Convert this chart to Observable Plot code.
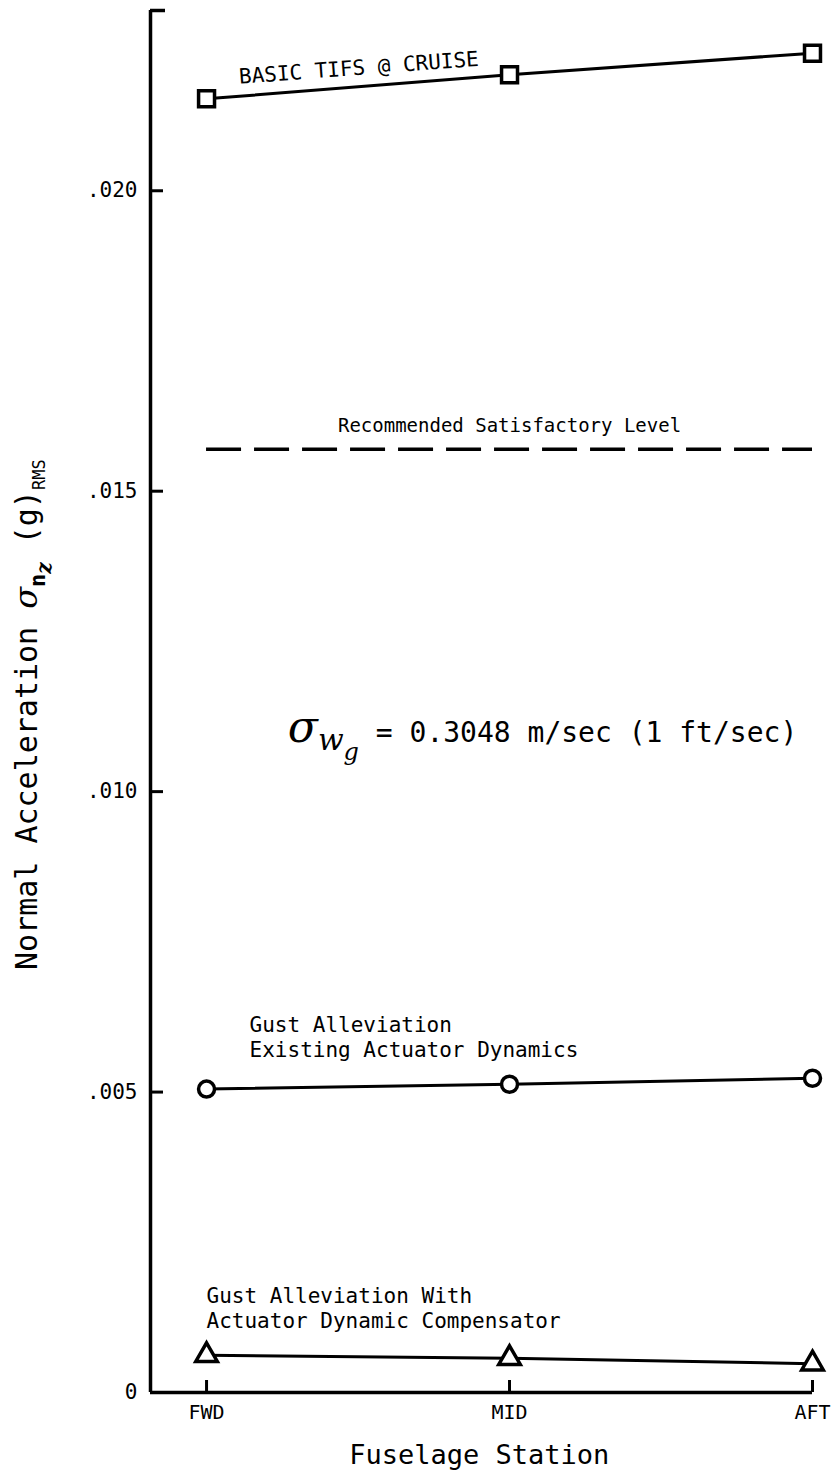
<!DOCTYPE html>
<html>
<head>
<meta charset="utf-8">
<script src="https://cdn.jsdelivr.net/npm/d3@7"></script>
<script src="https://cdn.jsdelivr.net/npm/@observablehq/plot@0.6"></script>
<style>
  body { margin: 0; background: #fff; }
  #chart svg { display: block; }
</style>
</head>
<body>
<div id="chart"></div>
<script>
// Fuselage stations along the x axis
const stations = ["FWD", "MID", "AFT"];

// RMS normal acceleration (g) at each station
const basicTifs = [0.02153, 0.02193, 0.02229];
const existingActuator = [0.00505, 0.00513, 0.00523];
const withCompensator = [0.00062, 0.00057, 0.00048];

// Recommended satisfactory level (g RMS)
const satisfactoryLevel = 0.0157;

// Y axis ticks and their printed labels
const yTicks = [0, 0.005, 0.010, 0.015, 0.020];
const yTickLabels = ["0", ".005", ".010", ".015", ".020"];
const yTop = 0.023;

const stationIndex = stations.map((_, i) => i);
const xMin = -0.185;
const lastStation = stations.length - 1;
const mono = "'DejaVu Sans Mono', monospace";
const serif = "'DejaVu Serif', serif";

const toRows = (values, series) => values.map((v, i) => ({series, station: i, value: v}));
const basicRows = toRows(basicTifs, "basic");
const existingRows = toRows(existingActuator, "existing");
const compensatorRows = toRows(withCompensator, "compensator");

const seriesStyle = {x: "station", y: "value", stroke: "black", strokeWidth: 3};
const dotStyle = {x: "station", y: "value", stroke: "black", fill: "white", strokeWidth: 3.5};

const plot = Plot.plot({
  width: 834,
  height: 1471,
  marginLeft: 150,
  marginRight: 22,
  marginTop: 10,
  marginBottom: 79,
  x: {domain: [xMin, lastStation]},
  y: {domain: [0, yTop]},
  style: {fontFamily: mono, background: "white", color: "black", overflow: "visible"},
  marks: [
    // axis frame: left spine with a cap at the top, bottom spine ending at AFT
    Plot.ruleX([xMin], {y1: 0, y2: yTop, strokeWidth: 3.5}),
    Plot.ruleY([0], {x1: xMin, x2: lastStation, strokeWidth: 3.5}),
    Plot.axisY([yTop], {tickSize: -15, strokeWidth: 3.5, tickFormat: () => "", label: null}),
    Plot.axisY(yTicks, {
      tickSize: -13, tickPadding: 26, strokeWidth: 3, fontSize: 21,
      tickFormat: d => yTickLabels[yTicks.indexOf(d)], label: null
    }),
    Plot.axisX(stationIndex, {
      tickSize: -12, tickPadding: 24, strokeWidth: 3, fontSize: 20,
      tickFormat: i => stations[i], label: null
    }),
    Plot.text(["Fuselage Station"], {
      x: 0.9, frameAnchor: "bottom", dy: 71, lineAnchor: "bottom", fontSize: 27
    }),

    // recommended level
    Plot.ruleY([satisfactoryLevel], {x1: 0, x2: lastStation, strokeWidth: 3.5, strokeDasharray: "35,13"}),
    Plot.text(["Recommended Satisfactory Level"], {
      x: 1, y: 0.01598, lineAnchor: "bottom", fontSize: 19
    }),

    // series
    Plot.line(basicRows, seriesStyle),
    Plot.line(existingRows, seriesStyle),
    Plot.line(compensatorRows, seriesStyle),
    Plot.dot(basicRows, {...dotStyle, symbol: "square", r: 9}),
    Plot.dot(existingRows, {...dotStyle, symbol: "circle", r: 8}),
    Plot.dot(compensatorRows, {...dotStyle, symbol: "triangle", r: 8}),

    // series labels
    Plot.text(["BASIC TIFS @ CRUISE"], {
      x: 0.109, y: 0.02178, textAnchor: "start", lineAnchor: "bottom", rotate: -4.3, fontSize: 21
    }),
    Plot.text(["Gust Alleviation\nExisting Actuator Dynamics"], {
      x: 0.142, y: 0.00558, textAnchor: "start", lineAnchor: "bottom", lineHeight: 1.19, fontSize: 21
    }),
    Plot.text(["Gust Alleviation With\nActuator Dynamic Compensator"], {
      x: 0.0, y: 0.00108, textAnchor: "start", lineAnchor: "bottom", lineHeight: 1.19, fontSize: 21
    })
  ]
});

// Rich text with subscripts: each part carries its own size and baseline shift
function richText(parent, transform, parts) {
  const text = parent.append("text")
    .attr("transform", transform)
    .attr("text-anchor", "start")
    .attr("fill", "black")
    .attr("font-family", mono);
  let prevShift = 0;
  for (const p of parts) {
    const shift = p.shift || 0;
    const ts = text.append("tspan")
      .attr("dy", shift - prevShift)
      .attr("font-size", p.size)
      .text(p.t);
    if (p.family) ts.attr("font-family", p.family);
    if (p.style) ts.attr("font-style", p.style);
    if (p.weight) ts.attr("font-weight", p.weight);
    prevShift = shift;
  }
  return text;
}

const svg = d3.select(plot);
const sx = plot.scale("x"), sy = plot.scale("y");

// y axis title
richText(svg, "translate(37,970) rotate(-90)", [
  {t: "Normal Acceleration ", size: 30},
  {t: "σ", size: 32, family: serif, style: "italic"},
  {t: "n", size: 22, shift: 8, weight: "bold"},
  {t: "z", size: 20, shift: 14, family: serif, style: "italic", weight: "bold"},
  {t: " (g)", size: 30, shift: 0},
  {t: "RMS", size: 17, shift: 8}
]);

// gust intensity note
richText(svg, `translate(${sx.apply(0.27)},${sy.apply(0.01082)})`, [
  {t: "σ", size: 44, family: serif, style: "italic"},
  {t: "w", size: 30, shift: 8, family: serif, style: "italic"},
  {t: "g", size: 24, shift: 18, family: serif, style: "italic"},
  {t: " = 0.3048 m/sec (1 ft/sec)", size: 28, shift: 0}
]);

document.getElementById("chart").append(plot);
</script>
</body>
</html>
